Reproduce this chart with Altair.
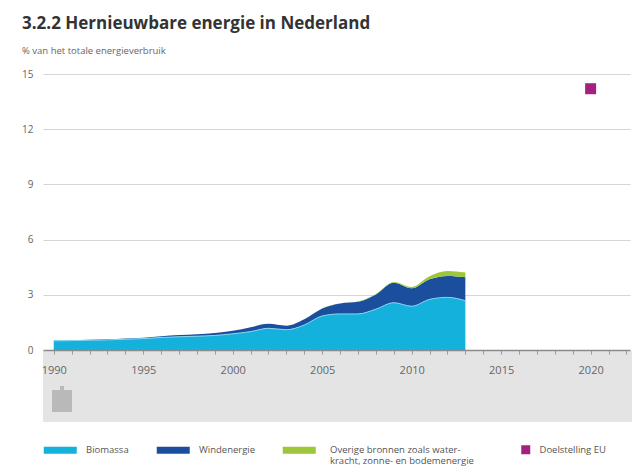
import altair as alt
import pandas as pd

# ---- data ----
years = list(range(1990, 2014))
biomassa = [0.50, 0.51, 0.53, 0.55, 0.58, 0.62, 0.68, 0.72, 0.75, 0.79, 0.88, 1.00,
            1.18, 1.10, 1.36, 1.85, 1.96, 1.96, 2.22, 2.57, 2.38, 2.75, 2.86, 2.68]
windenergie = [0.02, 0.02, 0.03, 0.03, 0.04, 0.05, 0.07, 0.09, 0.11, 0.13, 0.16, 0.24,
               0.24, 0.22, 0.31, 0.41, 0.57, 0.66, 0.80, 1.08, 0.97, 1.09, 1.16, 1.27]
overige = [0.00, 0.00, 0.00, 0.00, 0.00, 0.00, 0.00, 0.00, 0.00, 0.00, 0.00, 0.00,
           0.00, 0.00, 0.00, 0.01, 0.01, 0.02, 0.03, 0.05, 0.08, 0.17, 0.27, 0.26]
series_names = ["Biomassa", "Windenergie",
                "Overige bronnen zoals waterkracht, zonne- en bodemenergie"]
series_colors = ["#14b1dc", "#1b4f9e", "#9ec63b"]
overige_lines = ["Overige bronnen zoals water-", "kracht, zonne- en bodemenergie"]
target_year = [2020]
target_value = [14.2]
target_label = ["Doelstelling EU"]
y_ticks = [0, 3, 6, 9, 12, 15]
x_ticks = list(range(1990, 2023))

title_text = "3.2.2  Hernieuwbare energie in Nederland"
subtitle_text = "% van het totale energieverbruik"

rows = []
for i, yr in enumerate(years):
    for k, (name, vals) in enumerate(zip(series_names, [biomassa, windenergie, overige])):
        rows.append({"year": yr, "value": vals[i], "series": name, "ord": k})
df = pd.DataFrame(rows)
df_bio = pd.DataFrame({"year": years, "value": biomassa})
df_t = pd.DataFrame({"year": target_year, "value": target_value, "label": target_label})
one = pd.DataFrame({"a": [0]})

W, H = 587, 276
FONT = "Open Sans"
LEG_FS = 9.5

x_scale = alt.Scale(domain=[1989.4, 2022.2], nice=False, zero=False)
y_scale = alt.Scale(domain=[0, 15], nice=False)

x_axis = alt.Axis(values=x_ticks, labelExpr="datum.value % 5 == 0 ? '' + datum.value : ''",
                  tickSize=4, tickColor="#9a9a9a", domainColor="#8a8a8a", domainWidth=1.5,
                  labelPadding=10, labelFontSize=11, labelColor="#666", labelFont=FONT,
                  grid=False, title=None, zindex=1, labelFlush=False, labelOverlap=False,
                  labelBound=False)
y_axis = alt.Axis(values=y_ticks, domain=False, ticks=False, labelPadding=10,
                  labelFontSize=10, labelColor="#666", labelFont=FONT,
                  gridColor="#d6d6d6", gridWidth=1, title=None)

band = alt.Chart(one).mark_rect(color="#e4e4e4").encode(
    x=alt.value(0), x2=alt.value(W + 2), y=alt.value(277), y2=alt.value(348))
handle = alt.Chart(one).mark_rect(color="#b9b9b9").encode(
    x=alt.value(9), x2=alt.value(29), y=alt.value(316), y2=alt.value(338))
nub = alt.Chart(one).mark_rect(color="#b9b9b9").encode(
    x=alt.value(17), x2=alt.value(21), y=alt.value(312), y2=alt.value(316))

areas = alt.Chart(df).mark_area(interpolate="monotone").encode(
    x=alt.X("year:Q", scale=x_scale, axis=x_axis),
    y=alt.Y("value:Q", stack="zero", scale=y_scale, axis=y_axis),
    color=alt.Color("series:N",
                    scale=alt.Scale(domain=series_names, range=series_colors),
                    legend=alt.Legend(
                        orient="none", legendX=12.5, legendY=371, direction="horizontal",
                        title=None, symbolType="M-4.714,-1H4.714V1H-4.714Z",
                        symbolSize=49, symbolStrokeWidth=0, labelOffset=21,
                        columnPadding=27, labelFontSize=LEG_FS, labelColor="#555",
                        labelFont=FONT, labelLimit=400,
                        labelExpr="indexof(datum.label, 'Overige') == 0 ? '' : datum.label")),
    order=alt.Order("ord:Q", sort="ascending"),
)

edge = alt.Chart(df_bio).mark_line(interpolate="monotone", color="#86d6f0", strokeWidth=1).encode(
    x=alt.X("year:Q", scale=x_scale, axis=x_axis), y=alt.Y("value:Q", scale=y_scale, axis=y_axis))

point = alt.Chart(df_t).mark_point(filled=True, size=121, color="#a3227f", opacity=1).encode(
    x=alt.X("year:Q", scale=x_scale, axis=x_axis),
    y=alt.Y("value:Q", scale=y_scale, axis=y_axis),
    shape=alt.Shape("label:N", scale=alt.Scale(range=["square"]),
                    legend=alt.Legend(orient="none", legendX=478, legendY=371, title=None,
                                      symbolSize=81, symbolFillColor="#a3227f",
                                      symbolStrokeWidth=0, labelOffset=9,
                                      labelFontSize=LEG_FS, labelColor="#555", labelFont=FONT)),
)

overige_text = alt.Chart(one).mark_text(text=overige_lines, align="left", baseline="alphabetic",
                                        lineHeight=11.5, font=FONT, fontSize=LEG_FS,
                                        color="#555").encode(
    x=alt.value(287), y=alt.value(378.5))

title = alt.Chart(one).mark_text(text=title_text, align="left", baseline="alphabetic",
                                 font=FONT, fontSize=17, fontWeight="bold", color="#333").encode(
    x=alt.value(-21), y=alt.value(-45))
subtitle = alt.Chart(one).mark_text(text=subtitle_text, align="left", baseline="alphabetic",
                                    font=FONT, fontSize=9.5, color="#666").encode(
    x=alt.value(-21), y=alt.value(-20))

chart = alt.layer(band, handle, nub, areas, edge, point, overige_text, title, subtitle).properties(
    width=W, height=H,
    autosize=alt.AutoSizeParams(type="none"),
    padding={"left": 43, "top": 74, "right": 2, "bottom": 116},
).configure_view(stroke=None)

chart.save("out.html", embed_options={"renderer": "svg", "actions": False})
